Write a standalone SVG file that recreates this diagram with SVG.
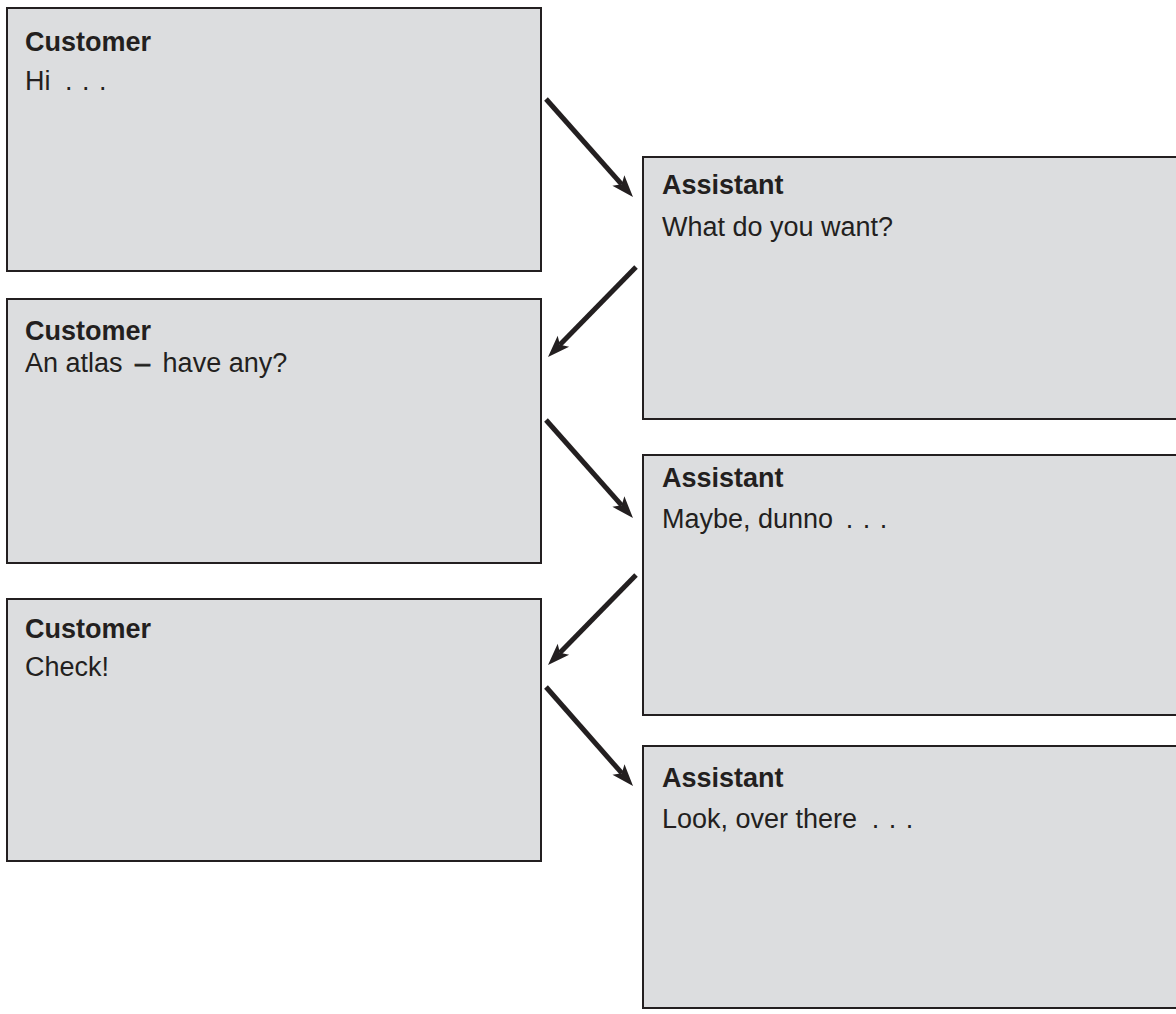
<svg xmlns="http://www.w3.org/2000/svg" width="1176" height="1014" viewBox="0 0 1176 1014">
<style>
.box{fill:#dcdddf;stroke:#231f20;stroke-width:2}
.h{font-family:"Liberation Sans",Arial,sans-serif;font-weight:bold;font-size:27px;fill:#231f20}
.t{font-family:"Liberation Sans",Arial,sans-serif;font-size:27px;fill:#231f20}
.dots{word-spacing:2px}
.dash{stroke:#231f20;stroke-width:0.8}
.c{stroke:#231f20;stroke-width:5;fill:none;marker-end:url(#ah)}
</style>
<defs>
<marker id="ah" markerUnits="userSpaceOnUse" markerWidth="24" markerHeight="18" refX="5" refY="8" orient="auto" overflow="visible">
<path d="M0,0 L22,8 L0,16 L5,8 z" fill="#231f20"/>
</marker>
</defs>
<rect width="1176" height="1014" fill="#ffffff"/>
<g id="customer1"><rect class="box" x="7" y="8" width="534" height="263"/><text class="h" x="25" y="51">Customer</text><text class="t" x="25" y="90">Hi<tspan class="dots" dx="5"> . . .</tspan></text></g>
<g id="assistant1"><rect class="box" x="643" y="157" width="545" height="262"/><text class="h" x="662" y="194">Assistant</text><text class="t" x="662" y="236">What do you want?</text></g>
<g id="customer2"><rect class="box" x="7" y="299" width="534" height="264"/><text class="h" x="25" y="340">Customer</text><text class="t" x="25" y="372">An atlas <tspan class="dash" dx="5">–</tspan><tspan dx="5"> have any?</tspan></text></g>
<g id="assistant2"><rect class="box" x="643" y="455" width="545" height="260"/><text class="h" x="662" y="487">Assistant</text><text class="t" x="662" y="528">Maybe, dunno<tspan class="dots" dx="3"> . . .</tspan></text></g>
<g id="customer3"><rect class="box" x="7" y="599" width="534" height="262"/><text class="h" x="25" y="638">Customer</text><text class="t" x="25" y="676">Check!</text></g>
<g id="assistant3"><rect class="box" x="643" y="746" width="545" height="262"/><text class="h" x="662" y="787">Assistant</text><text class="t" x="662" y="828">Look, over there<tspan class="dots" dx="5"> . . .</tspan></text></g>
<g id="connectors">
<line class="c" x1="546" y1="99" x2="621.7" y2="184.3"/>
<line class="c" x1="636" y1="267" x2="559.9" y2="344.8"/>
<line class="c" x1="546" y1="420" x2="621.7" y2="505.3"/>
<line class="c" x1="636" y1="575" x2="559.9" y2="652.8"/>
<line class="c" x1="546" y1="687" x2="621.8" y2="773.2"/>
</g>
</svg>
